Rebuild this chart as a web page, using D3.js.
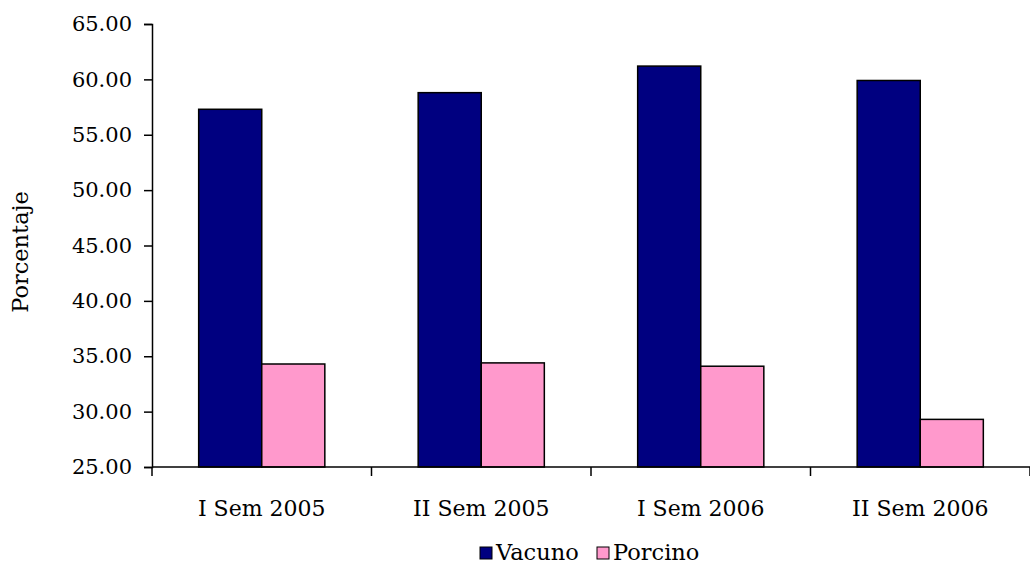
<!DOCTYPE html>
<html><head><meta charset="utf-8">
<script src="https://cdn.jsdelivr.net/npm/d3@7"></script>
<style>body{margin:0;background:#fff}svg{display:block}text{font-family:"DejaVu Serif",serif;fill:#000}</style>
</head><body>
<svg id="c" width="1030" height="564"></svg>
<script>
const categories = ["I Sem 2005","II Sem 2005","I Sem 2006","II Sem 2006"];
const seriesNames = ["Vacuno","Porcino"];
const vacuno = [57.3, 58.8, 61.2, 59.9];
const porcino = [34.3, 34.4, 34.1, 29.3];
const yTicks = [25,30,35,40,45,50,55,60,65];
const colors = ["#000080","#FF99CC"];

const FS = 21;
const svg = d3.select("#c");
const m = {left:152, right:1030, top:24, bottom:467};
const x = d3.scaleBand().domain(categories).range([m.left, m.right]).paddingInner(0).paddingOuter(0);
const y = d3.scaleLinear().domain([25,65]).range([m.bottom, m.top]);
const xs = d3.scaleBand().domain(seriesNames).range([0, x.bandwidth()]).paddingInner(0).paddingOuter(0.74);

const data = [vacuno, porcino];
categories.forEach((c,i)=>{
  seriesNames.forEach((s,j)=>{
    const v = data[j][i];
    svg.append("rect")
      .attr("x", x(c)+xs(s)).attr("y", y(v))
      .attr("width", xs.bandwidth()).attr("height", y(25)-y(v))
      .attr("fill", colors[j]).attr("stroke","#000").attr("stroke-width",1.5);
  });
});

// y axis
const ya = svg.append("g").attr("transform",`translate(${m.left},0)`)
  .call(d3.axisLeft(y).tickValues(yTicks).tickFormat(d3.format(".2f")).tickSize(8).tickPadding(12));
ya.attr("font-size",FS).attr("font-family","DejaVu Serif");
ya.select(".domain").attr("stroke","#000").attr("stroke-width",1.5);
ya.selectAll(".tick line").attr("stroke","#000").attr("stroke-width",1.5);
ya.selectAll("text").style("font-size",FS+"px").attr("fill","#000");

// x axis
const xa = svg.append("g").attr("transform",`translate(0,${m.bottom})`);
xa.append("line").attr("x1",m.left).attr("x2",m.right).attr("y1",0).attr("y2",0).attr("stroke","#000").attr("stroke-width",1.5);
const edges = categories.map(c=>x(c)).concat([m.right]);
edges.forEach(e=>{
  xa.append("line").attr("x1",e).attr("x2",e).attr("y1",0).attr("y2",9).attr("stroke","#000").attr("stroke-width",1.5);
});
categories.forEach(c=>{
  xa.append("text").attr("x", x(c)+x.bandwidth()/2).attr("y",49).attr("text-anchor","middle").style("font-size","22px").text(c);
});

// y title
svg.append("text").attr("transform","translate(28,252) rotate(-90)").attr("text-anchor","middle").style("font-size","22.5px").text("Porcentaje");

// legend
const lg = svg.append("g");
const items = [{n:"Vacuno",x:480},{n:"Porcino",x:597}];
items.forEach((it,j)=>{
  lg.append("rect").attr("x",it.x).attr("y",547).attr("width",12).attr("height",12).attr("fill",colors[j]).attr("stroke","#000").attr("stroke-width",1);
  lg.append("text").attr("x",it.x+16).attr("y",560).style("font-size","22.5px").text(it.n);
});
</script>
</body></html>
